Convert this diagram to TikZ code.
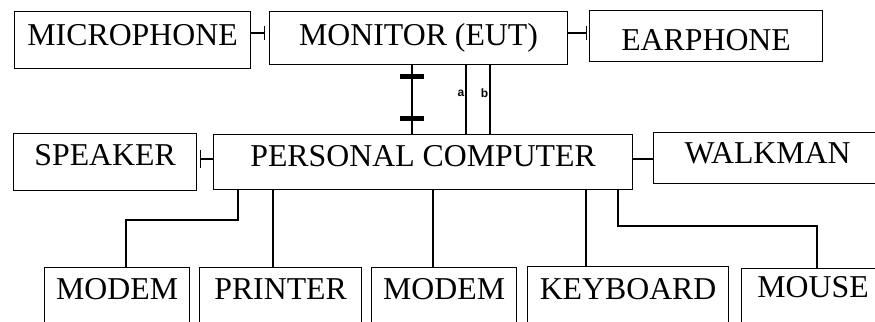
\documentclass[tikz,border=0pt]{standalone}
\usepackage{fontspec}
\setmainfont{Liberation Serif}
\newfontfamily\tagfont{Liberation Sans}
\usetikzlibrary{arrows.meta}

\begin{document}
\begin{tikzpicture}[x=0.5pt, y=-0.5pt,
  unit/.style={draw, rectangle, inner sep=0pt, anchor=north west, line width=0.6pt,
    font=\fontsize{15.9}{18}\selectfont},
  wire/.style={line width=0.6pt},
  ferrite/.style={fill=black, inner sep=0pt, minimum width=12pt, minimum height=2.5pt},
  tag/.style={left, inner sep=0.6pt, font=\tagfont\bfseries\fontsize{6}{7}\selectfont}]
\useasboundingbox (0,0) rectangle (875,322);
\clip (0,0) rectangle (875,322);

% top row
\node[unit, minimum width=118pt, text height=17pt, text depth=11.5pt] (mic) at (14,11) {MICROPHONE};
\node[unit, minimum width=149pt, text height=17pt, text depth=9.5pt] (mon) at (269,11) {MONITOR (EUT)};
\node[unit, minimum width=116.5pt, text height=20pt, text depth=5.5pt] (ear) at (589,10) {EARPHONE};

% middle row
\node[unit, minimum width=91.5pt, text height=16pt, text depth=12.5pt] (spk) at (13,133) {SPEAKER};
\node[unit, minimum width=209.5pt, text height=16pt, text depth=11.5pt] (pc) at (213,134) {PERSONAL COMPUTER};
\node[unit, minimum width=114pt, text height=15.5pt, text depth=10pt] (walk) at (653,132) {WALKMAN};

% bottom row
\node[unit, minimum width=72.5pt, text height=16pt, text depth=20.5pt] (modA) at (44,267) {MODEM};
\node[unit, minimum width=81pt, text height=16pt, text depth=20.5pt] (prn) at (199,267) {PRINTER};
\node[unit, minimum width=72.5pt, text height=16pt, text depth=20.5pt] (modB) at (371,267) {MODEM};
\node[unit, minimum width=100.5pt, text height=16.5pt, text depth=20.5pt] (kbd) at (527,266) {KEYBOARD};
\node[unit, minimum width=71.5pt, text height=14.5pt, text depth=21.5pt] (mouse) at (741,268) {MOUSE};

% side connections
\coordinate (row1) at (0,33);
\coordinate (row2) at (0,159);
\draw[wire, -{Bar[width=7pt]}, shorten >=2pt] (mic.east |- row1) -- (mon.west |- row1);
\draw[wire, -{Bar[width=7pt]}, shorten >=1pt] (mon.east |- row1) -- (ear.west |- row1);
\draw[wire, {Bar[width=9pt]}-, shorten <=1.5pt] (spk.east |- row2) -- (pc.west |- row2);
\draw[wire] (pc.east |- row2) -- (walk.west |- row2);

% monitor cables
\coordinate (cab) at (412,0);
\coordinate (ca) at (466,0);
\coordinate (cb) at (490,0);
\draw[wire] (cab |- mon.south) -- node[ferrite, pos=0.17] (f1) {} node[ferrite, pos=0.77] (f2) {} (cab |- pc.north);
\draw[wire] (ca |- mon.south) -- node[tag, pos=0.41] (la) {a} (ca |- pc.north);
\draw[wire] (cb |- mon.south) -- node[tag, pos=0.41] (lb) {b} (cb |- pc.north);

% peripherals
\coordinate (kA) at (238,220);
\coordinate (kA2) at (126,220);
\draw[wire] (kA |- pc.south) -- (kA) -- (kA2) -- (kA2 |- modA.north);
\coordinate (dP) at (273,0);
\draw[wire] (dP |- pc.south) -- (dP |- prn.north);
\coordinate (dM) at (433,0);
\draw[wire] (dM |- pc.south) -- (dM |- modB.north);
\coordinate (dK) at (586,0);
\draw[wire] (dK |- pc.south) -- (dK |- kbd.north);
\coordinate (kM) at (618,226);
\coordinate (kM2) at (817,226);
\draw[wire] (kM |- pc.south) -- (kM) -- (kM2) -- (kM2 |- mouse.north);
\end{tikzpicture}
\end{document}
